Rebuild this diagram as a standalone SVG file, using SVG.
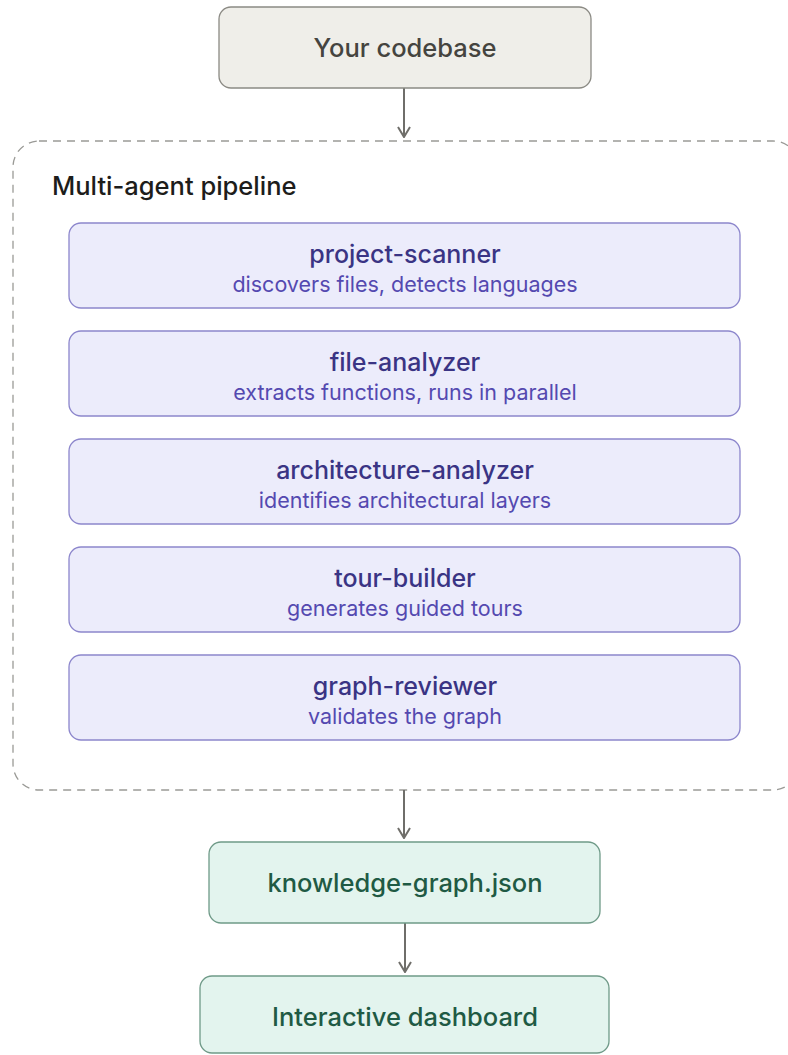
<svg xmlns="http://www.w3.org/2000/svg" width="788" height="1055" viewBox="0 0 788 1055">
<defs>
<style>
.io{fill:#efeee9;stroke:#8b8a84;stroke-width:1.3}
.agent{fill:#ececfb;stroke:#8c86cc;stroke-width:1.3}
.out{fill:#e3f4ee;stroke:#6f9a88;stroke-width:1.3}
.t{font-family:Inter,"Liberation Sans",sans-serif;text-anchor:middle}
.io-t{font-size:25.5px;font-weight:500;fill:#45443f}
.at{font-size:25px;font-weight:500;fill:#3a3484}
.as{font-size:21.5px;font-weight:400;fill:#5449b0}
.ot{font-size:25.5px;font-weight:500;fill:#1f5a44}
.cont{fill:none;stroke:#9a9a96;stroke-width:1.3;stroke-dasharray:8 6}
.conn{stroke:#6f6e6a;stroke-width:2;fill:none}
</style>
<marker id="arr" viewBox="0 0 12 14" refX="11" refY="7" markerWidth="12" markerHeight="14" markerUnits="userSpaceOnUse" orient="auto">
<path d="M1 1 L11 7 L1 13" fill="none" stroke="#6f6e6a" stroke-width="2"/>
</marker>
</defs>
<rect width="788" height="1055" fill="#ffffff"/>
<g id="pipeline">
<rect class="cont" x="13" y="141" width="786" height="649" rx="26"/>
<text class="t" x="52" y="195" style="text-anchor:start;font-size:25.5px;font-weight:500;fill:#1d1d1b">Multi-agent pipeline</text>
</g>
<g id="connectors">
<path class="conn" d="M404 88 V137" marker-end="url(#arr)"/>
<path class="conn" d="M404 790 V838" marker-end="url(#arr)"/>
<path class="conn" d="M405 923 V972" marker-end="url(#arr)"/>
</g>
<g id="codebase">
<rect class="io" x="219" y="7" width="372" height="81" rx="12"/>
<text class="t io-t" x="405" y="57">Your codebase</text>
</g>
<g id="project-scanner">
<rect class="agent" x="69" y="223" width="671" height="85" rx="12"/>
<text class="t at" x="405" y="263">project-scanner</text>
<text class="t as" x="405" y="292">discovers files, detects languages</text>
</g>
<g id="file-analyzer">
<rect class="agent" x="69" y="331" width="671" height="85" rx="12"/>
<text class="t at" x="405" y="371">file-analyzer</text>
<text class="t as" x="405" y="400">extracts functions, runs in parallel</text>
</g>
<g id="architecture-analyzer">
<rect class="agent" x="69" y="439" width="671" height="85" rx="12"/>
<text class="t at" x="405" y="479">architecture-analyzer</text>
<text class="t as" x="405" y="508">identifies architectural layers</text>
</g>
<g id="tour-builder">
<rect class="agent" x="69" y="547" width="671" height="85" rx="12"/>
<text class="t at" x="405" y="587">tour-builder</text>
<text class="t as" x="405" y="616">generates guided tours</text>
</g>
<g id="graph-reviewer">
<rect class="agent" x="69" y="655" width="671" height="85" rx="12"/>
<text class="t at" x="405" y="695">graph-reviewer</text>
<text class="t as" x="405" y="724">validates the graph</text>
</g>
<g id="knowledge-graph">
<rect class="out" x="209" y="842" width="391" height="81" rx="12"/>
<text class="t ot" x="405" y="892">knowledge-graph.json</text>
</g>
<g id="dashboard">
<rect class="out" x="200" y="976" width="409" height="77" rx="12"/>
<text class="t ot" x="405" y="1026">Interactive dashboard</text>
</g>
</svg>
